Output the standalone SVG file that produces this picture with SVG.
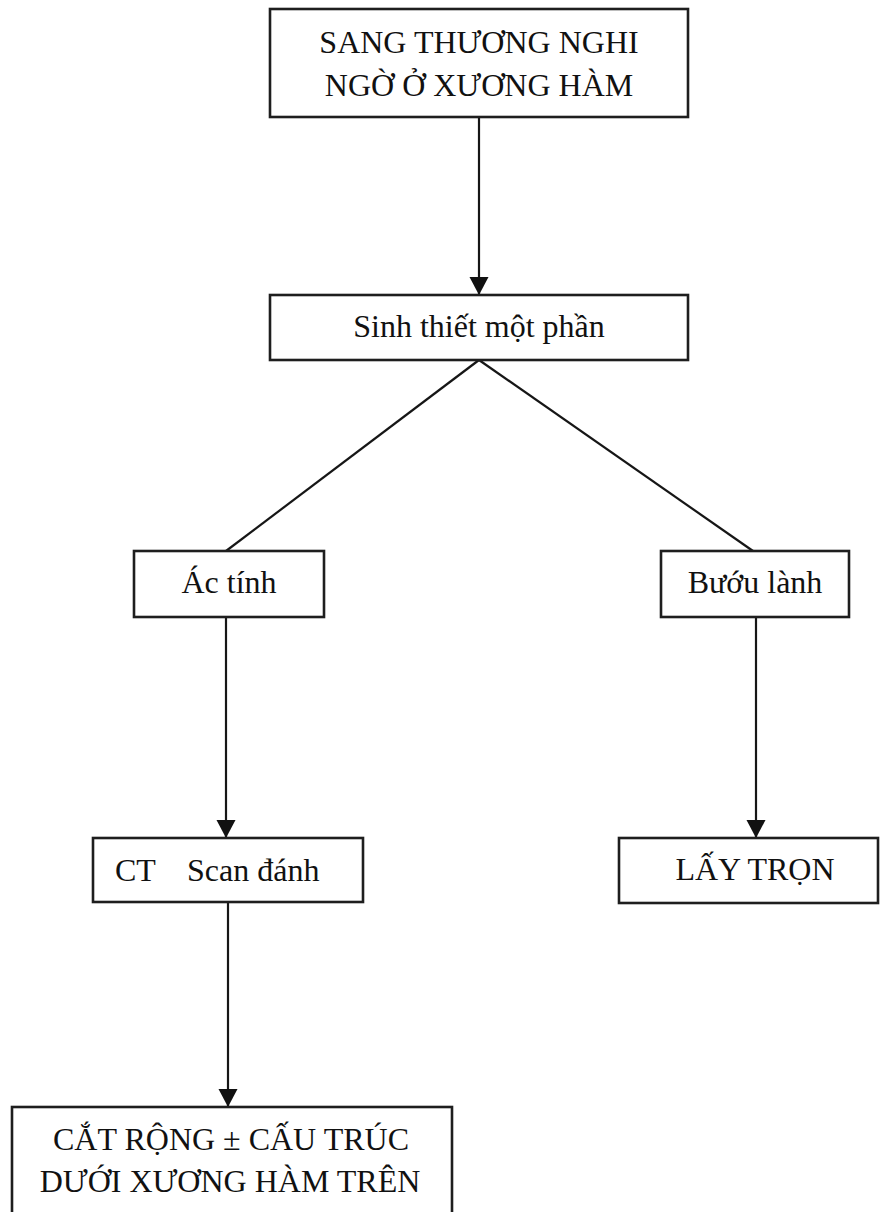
<svg xmlns="http://www.w3.org/2000/svg" width="883" height="1212" viewBox="0 0 883 1212">
  <style>
    .box { fill: #ffffff; stroke: #1e1e1e; stroke-width: 2.6; }
    .lbl { font-family: "Liberation Serif", "Times New Roman", serif; font-size: 32px; fill: #111111; text-anchor: middle; }
    .edge { fill: none; stroke: #161616; stroke-width: 2.2; }
  </style>
  <defs>
    <marker id="arrow" markerUnits="userSpaceOnUse" markerWidth="20" markerHeight="20" viewBox="0 0 20 20" refX="18" refY="10" orient="auto">
      <path d="M0,0.5 L18,10 L0,19.5 Z" fill="#111111"/>
    </marker>
  </defs>

  <rect width="883" height="1212" fill="#ffffff"/>

  <!-- connectors -->
  <g id="connectors">
    <line class="edge" x1="479" y1="117" x2="479" y2="295" marker-end="url(#arrow)"/>
    <line class="edge" x1="479" y1="360" x2="226" y2="551"/>
    <line class="edge" x1="479" y1="360" x2="753" y2="551"/>
    <line class="edge" x1="226" y1="617" x2="226" y2="838" marker-end="url(#arrow)"/>
    <line class="edge" x1="756" y1="617" x2="756" y2="838" marker-end="url(#arrow)"/>
    <line class="edge" x1="228" y1="902" x2="228" y2="1107" marker-end="url(#arrow)"/>
  </g>

  <!-- nodes -->
  <g id="node-sang-thuong">
    <rect class="box" x="270" y="9" width="418" height="108"/>
    <text class="lbl" x="479" y="53">SANG THƯƠNG NGHI</text>
    <text class="lbl" x="479" y="96">NGỜ  Ở XƯƠNG HÀM</text>
  </g>

  <g id="node-sinh-thiet">
    <rect class="box" x="270" y="295" width="418" height="65"/>
    <text class="lbl" x="479" y="337">Sinh thiết một phần</text>
  </g>

  <g id="node-ac-tinh">
    <rect class="box" x="134" y="551" width="190" height="66"/>
    <text class="lbl" x="229" y="593">Ác tính</text>
  </g>

  <g id="node-buou-lanh">
    <rect class="box" x="661" y="551" width="188" height="66"/>
    <text class="lbl" x="755" y="593">Bướu lành</text>
  </g>

  <g id="node-ct-scan">
    <rect class="box" x="93" y="838" width="270" height="64"/>
    <text class="lbl" style="text-anchor:start"><tspan x="115" y="881">CT</tspan><tspan x="187" y="881">Scan đánh</tspan></text>
  </g>

  <g id="node-lay-tron">
    <rect class="box" x="619" y="838" width="259" height="65"/>
    <text class="lbl" x="755" y="880">LẤY TRỌN</text>
  </g>

  <g id="node-cat-rong">
    <rect class="box" x="12" y="1107" width="440" height="120"/>
    <text class="lbl" x="231" y="1150">CẮT RỘNG ± CẤU TRÚC</text>
    <text class="lbl" x="230" y="1192">DƯỚI XƯƠNG HÀM TRÊN</text>
  </g>
</svg>
